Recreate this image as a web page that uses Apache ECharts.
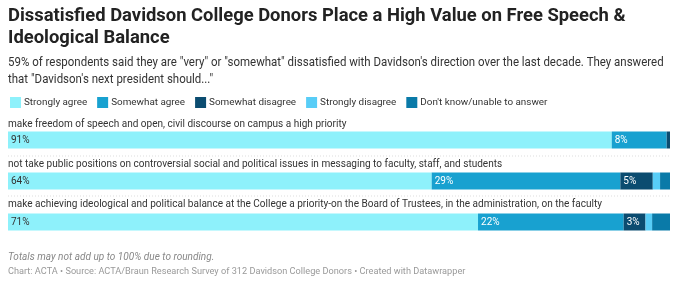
<!DOCTYPE html>
<html><head><meta charset="utf-8">
<script src="https://cdn.jsdelivr.net/npm/echarts@6/dist/echarts.min.js"></script>
<style>html,body{margin:0;padding:0;background:#fff}#c{width:679px;height:282px}</style>
</head><body><div id="c"></div>
<script>
const questions = [
  "make freedom of speech and open, civil discourse on campus a high priority",
  "not take public positions on controversial social and political issues in messaging to faculty, staff, and students",
  "make achieving ideological and political balance at the College a priority-on the Board of Trustees, in the administration, on the faculty"
];
const seriesNames = ["Strongly agree","Somewhat agree","Somewhat disagree","Strongly disagree","Don't know/unable to answer"];
const stronglyAgree = [91.2, 64, 71];
const somewhatAgree = [8.3, 28.5, 22];
const somewhatDisagree = [0.5, 4.9, 3.3];
const stronglyDisagree = [0, 1.1, 1];
const dontKnow = [0, 1.5, 2.7];
const colors = ["#8ef1fb","#18a1d0","#0b4c70","#58cdf7","#0a7aa8"];
const values = [stronglyAgree, somewhatAgree, somewhatDisagree, stronglyDisagree, dontKnow];

const chart = echarts.init(document.getElementById('c'), null, {renderer:'canvas'});
const F = 'Roboto, sans-serif';
const series = seriesNames.map((n,i)=>({
  name:n, type:'bar', stack:'s', barWidth:17, data: values[i],
  itemStyle:{color:colors[i]},
  label:{show:true, position:'insideLeft', distance:3, fontFamily:F, fontSize:10,
    color: i===0 ? '#333' : '#fff',
    formatter:p=> p.value>=3 ? Math.round(p.value)+'%' : ''}
}));
const graphics = [];
const labelY = [125.5, 165.5, 205.5];
questions.forEach((q,i)=>graphics.push({type:'text', x:8, y:labelY[i]-7, scaleX:0.93, style:{text:q, font:'10.8px '+F, fill:'#333'}}));
[156,196].forEach(y=>graphics.push({type:'line', shape:{x1:8,y1:y,x2:670,y2:y}, style:{stroke:'#ddd', lineWidth:1, lineDash:[1,2]}}));
graphics.push({type:'text', x:8, y:5, style:{text:'Dissatisfied Davidson College Donors Place a High Value on Free Speech &\nIdeological Balance', font:'bold 18.4px '+F, fill:'#222', lineHeight:22}});
graphics.push({type:'text', x:8, y:54, scaleX:0.883, style:{text:'59% of respondents said they are "very" or "somewhat" dissatisfied with Davidson\'s direction over the last decade. They answered\nthat "Davidson\'s next president should..."', font:'13px '+F, fill:'#333', lineHeight:17}});
graphics.push({type:'text', x:8, y:252, scaleX:0.93, style:{text:'Totals may not add up to 100% due to rounding.', font:'italic 10.8px '+F, fill:'#888'}});
graphics.push({type:'text', x:8, y:267, scaleX:0.93, style:{text:'Chart: ACTA • Source: ACTA/Braun Research Survey of 312 Davidson College Donors • Created with Datawrapper', font:'9.9px '+F, fill:'#999'}});

chart.setOption({
  animation:false,
  textStyle:{fontFamily:F},
  legend:{left:5, top:92, itemWidth:11, itemHeight:11, itemGap:10, icon:'rect',
    textStyle:{fontFamily:F, fontSize:9.9, color:'#333', padding:[0,0,0,-2]},
    data: seriesNames},
  grid:{left:8, right:9, top:119.5, height:123, containLabel:false},
  xAxis:{type:'value', min:0, max:100, show:false},
  yAxis:{type:'category', inverse:true, data:questions, show:false},
  series: series,
  graphic: graphics
});
</script></body></html>
